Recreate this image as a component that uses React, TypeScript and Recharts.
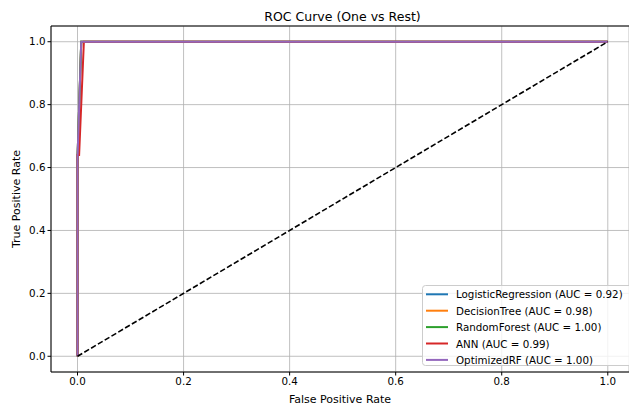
import React from 'react';
import { LineChart, Line, XAxis, YAxis, CartesianGrid, ReferenceLine } from 'recharts';

const ticks = [0, 0.2, 0.4, 0.6, 0.8, 1.0];

const lrCurve = [
  { x: 0, y: 0 }, { x: 0, y: 0.63 }, { x: 0.007, y: 1.0 }, { x: 1, y: 1.0 },
];
const dtCurve = [
  { x: 0, y: 0 }, { x: 0, y: 0.63 }, { x: 0.007, y: 1.0 }, { x: 1, y: 1.0 },
];
const rfCurve = [
  { x: 0, y: 0 }, { x: 0, y: 0.63 }, { x: 0.007, y: 1.0 }, { x: 1, y: 1.0 },
];
const annCurve = [
  { x: 0, y: 0 }, { x: 0, y: 0.64 }, { x: 0.003, y: 0.64 }, { x: 0.012, y: 1.0 }, { x: 1, y: 1.0 },
];
const orfCurve = [
  { x: 0, y: 0 }, { x: 0, y: 0.63 }, { x: 0.007, y: 1.0 }, { x: 1, y: 1.0 },
];
const diagonal = [{ x: 0, y: 0 }, { x: 1, y: 1 }];

const series = [
  { name: 'LogisticRegression (AUC = 0.92)', color: '#1f77b4', data: lrCurve },
  { name: 'DecisionTree (AUC = 0.98)', color: '#ff7f0e', data: dtCurve },
  { name: 'RandomForest (AUC = 1.00)', color: '#2ca02c', data: rfCurve },
  { name: 'ANN (AUC = 0.99)', color: '#d62728', data: annCurve },
  { name: 'OptimizedRF (AUC = 1.00)', color: '#9467bd', data: orfCurve },
];

const font = '"DejaVu Sans", sans-serif';

export default function App() {
  return (
    <div style={{ position: 'absolute', left: 0, top: 0, width: 629, height: 405, overflow: 'hidden', background: '#fff' }}>
      <LineChart width={629} height={405} margin={{ top: 26, right: 0, bottom: 0, left: 0 }}>
        <CartesianGrid stroke="#b0b0b0" strokeWidth={0.8} horizontal vertical />
        <XAxis
          type="number" dataKey="x" domain={[-0.05, 1.04]} allowDataOverflow ticks={ticks}
          tickFormatter={(v: number) => v.toFixed(1)} height={33}
          axisLine={{ stroke: '#000', strokeWidth: 1 }} tickLine={{ stroke: '#000' }} tickSize={3.5}
          tick={{ fill: '#000', fontSize: 10.3, fontFamily: font }}
          label={{ value: 'False Positive Rate', position: 'insideBottom', offset: 2, fill: '#000', fontSize: 11, fontFamily: font }}
        />
        <YAxis
          type="number" dataKey="y" domain={[-0.05, 1.05]} allowDataOverflow ticks={ticks}
          tickFormatter={(v: number) => v.toFixed(1)} width={51}
          axisLine={{ stroke: '#000', strokeWidth: 1 }} tickLine={{ stroke: '#000' }} tickSize={3.5}
          tick={{ fill: '#000', fontSize: 10.3, fontFamily: font }}
          label={{ value: 'True Positive Rate', angle: -90, position: 'insideLeft', offset: 16, fill: '#000', fontSize: 11, fontFamily: font, style: { textAnchor: 'middle' } }}
        />
        <ReferenceLine y={1.05} stroke="#000" strokeWidth={1} ifOverflow="visible" />
        {series.map((s) => (
          <Line key={s.name} data={s.data} dataKey="y" type="linear" stroke={s.color} strokeWidth={2} dot={false} activeDot={false} isAnimationActive={false} />
        ))}
        <Line data={diagonal} dataKey="y" type="linear" stroke="#000" strokeWidth={1.6} strokeDasharray="5.5 2.4" dot={false} activeDot={false} isAnimationActive={false} />
        <g>
          <rect x={422.5} y={285.5} width={220} height={80} rx={3} ry={3} fill="#fff" fillOpacity={0.8} stroke="#cccccc" strokeWidth={1} />
          {series.map((s, i) => (
            <g key={s.name}>
              <line x1={426} x2={448} y1={294.3 + i * 16.4} y2={294.3 + i * 16.4} stroke={s.color} strokeWidth={2} />
              <text x={456} y={294.3 + i * 16.4} dominantBaseline="central" fontSize={10.3} fontFamily={font} fill="#000">{s.name}</text>
            </g>
          ))}
        </g>
        <text x={342.5} y={16} textAnchor="middle" dominantBaseline="central" fontSize={12.5} fontFamily={font} fill="#000">ROC Curve (One vs Rest)</text>
      </LineChart>
    </div>
  );
}
